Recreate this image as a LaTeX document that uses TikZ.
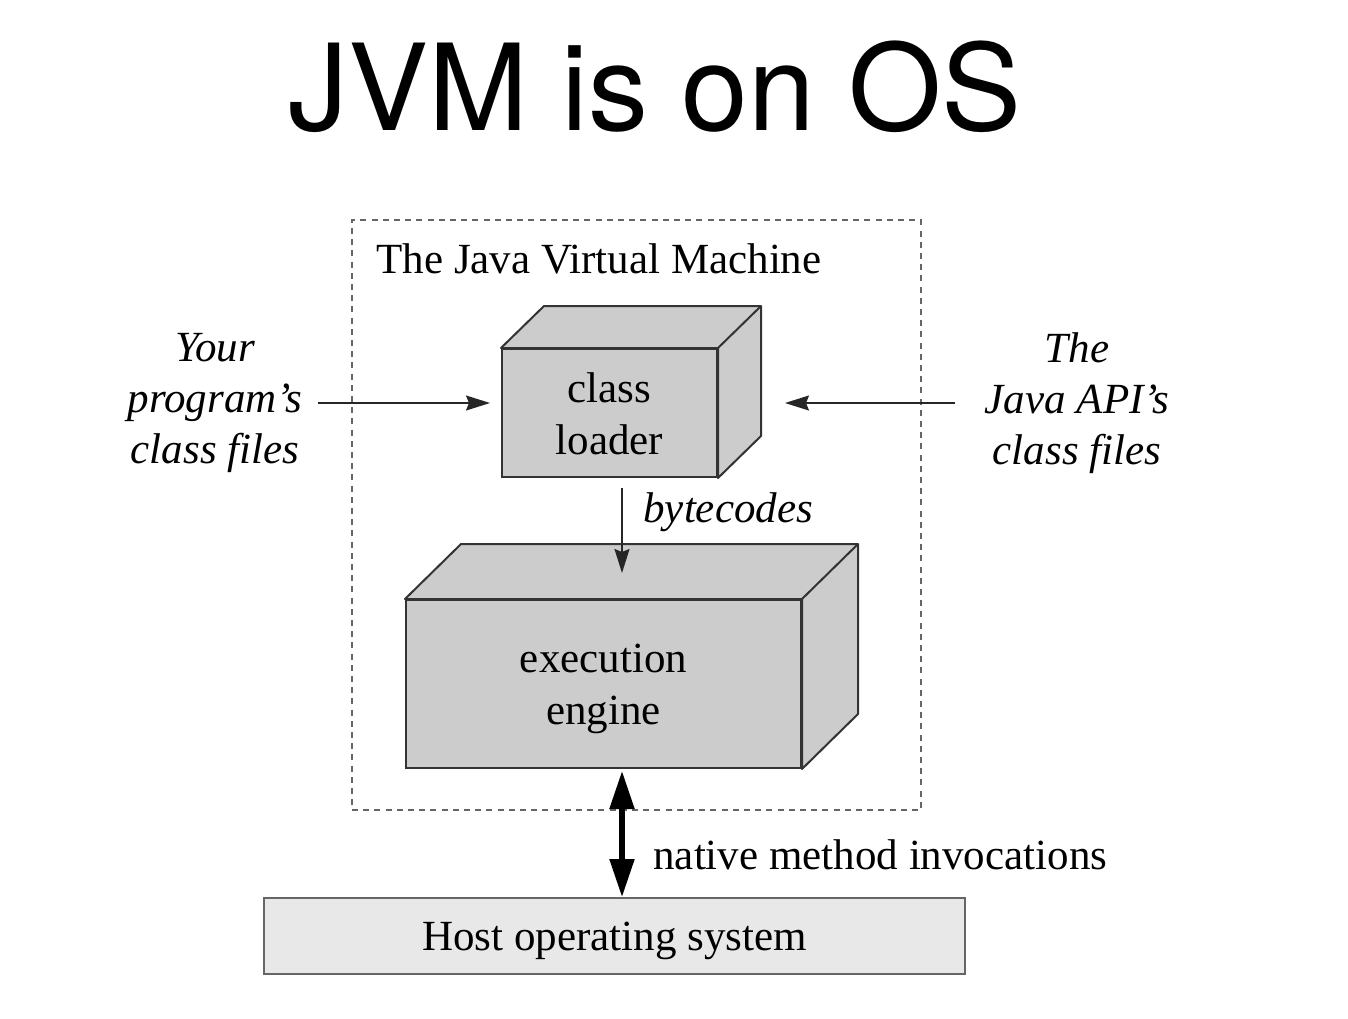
\documentclass[tikz,border=0pt]{standalone}
\usepackage{fontspec}
\setmainfont{Liberation Serif}
\newfontfamily\titlefont{TeX Gyre Heros}
\usetikzlibrary{arrows.meta}
\definecolor{boxgray}{HTML}{CCCCCC}
\definecolor{osgray}{HTML}{E8E8E8}
\definecolor{edgegray}{HTML}{333333}
\definecolor{dashgray}{HTML}{666666}
\begin{document}
\begin{tikzpicture}[x=0.5pt,y=-0.5pt,
  bodyfont/.style={font=\fontsize{21.5}{26}\selectfont},
  lbl/.style={bodyfont, align=center, inner sep=0pt},
  ilbl/.style={lbl, font=\fontsize{21.5}{25.5}\selectfont\itshape},
  cube/.style={draw=edgegray, fill=boxgray, line width=1pt, inner sep=0pt},
  face/.style={draw=edgegray, fill=boxgray, line width=1pt, line join=round},
  thinarr/.style={draw=black!85, line width=0.8pt, -{Stealth[length=12pt,width=7.5pt,inset=1.5pt]}},
  thickarr/.style={draw=black, line width=2.6pt, {Triangle[length=19pt,width=12pt]}-{Triangle[length=19pt,width=12pt]}},
  jvmbox/.style={draw=dashgray, line width=1.1pt, dash pattern=on 3pt off 2.6pt, minimum width=284.5pt, minimum height=295pt, inner sep=0pt},
  osbox/.style={draw=dashgray, fill=osgray, line width=1pt, minimum width=350.5pt, minimum height=38pt, inner sep=0pt}
]
\useasboundingbox (0,0) rectangle (1348,1018);
\fill[white] (0,0) rectangle (1348,1018);

% title
\node[font=\titlefont\fontsize{60}{70}\selectfont, anchor=base, inner sep=0pt] (title) at (655,130) {JVM is on OS};

% JVM dashed frame
\node[jvmbox] (jvm) at (636.5,515) {};
\node[lbl, anchor=base west] (jvmlabel) at (376,273) {The Java Virtual Machine};

% class loader cube
\node[cube, minimum width=107.5pt, minimum height=64pt] (cl) at (609.5,413) {};
\draw[face] (cl.north west) -- ++(43,-42) -- ([shift={(43,-42)}]cl.north east) -- ([shift={(43,-42)}]cl.south east) -- (cl.south east) -- (cl.north east) -- cycle;
\draw[edgegray, line width=1pt] (cl.north east) -- ++(43,-42);
\node[lbl] (cltext) at ([yshift=-0.5pt]cl.center) {class\\loader};

% execution engine cube
\node[cube, minimum width=197.5pt, minimum height=84pt] (ee) at (603.5,684) {};
\draw[face] (ee.north west) -- ++(56,-55) -- ([shift={(56,-55)}]ee.north east) -- ([shift={(56,-55)}]ee.south east) -- (ee.south east) -- (ee.north east) -- cycle;
\draw[edgegray, line width=1pt] (ee.north east) -- ++(56,-55);
\node[lbl] (eetext) at ([yshift=-2.5pt]ee.center) {execution\\engine};

% host OS
\node[osbox] (os) at (614.5,936) {};
\node[lbl] (ostext) at ([yshift=-2.5pt]os.center) {Host operating system};

% side labels
\node[ilbl] (yp) at (215,403) {Your\\program's\\class files};
\node[ilbl] (api) at (1077,403) {The\\Java API's\\class files};

% arrows
\coordinate (ypend) at (490,403);
\coordinate (apiend) at (785,403);
\coordinate (ypstart) at (318,403);
\coordinate (apistart) at (955,403);
\draw[thinarr] (ypstart) -- (ypend);
\draw[thinarr] (apistart) -- (apiend);

\coordinate (bcstart) at (622,488);
\coordinate (bcend) at (622,573);
\draw[thinarr] (bcstart) -- (bcend);
\node[ilbl, anchor=west] (bc) at (643,512) {bytecodes};

\coordinate (nmtop) at (622,771);
\coordinate (nmbot) at (622,897);
\draw[thickarr] (nmtop) -- (nmbot);
\node[lbl, anchor=west] (nm) at (653,855) {native method invocations};
\end{tikzpicture}
\end{document}
